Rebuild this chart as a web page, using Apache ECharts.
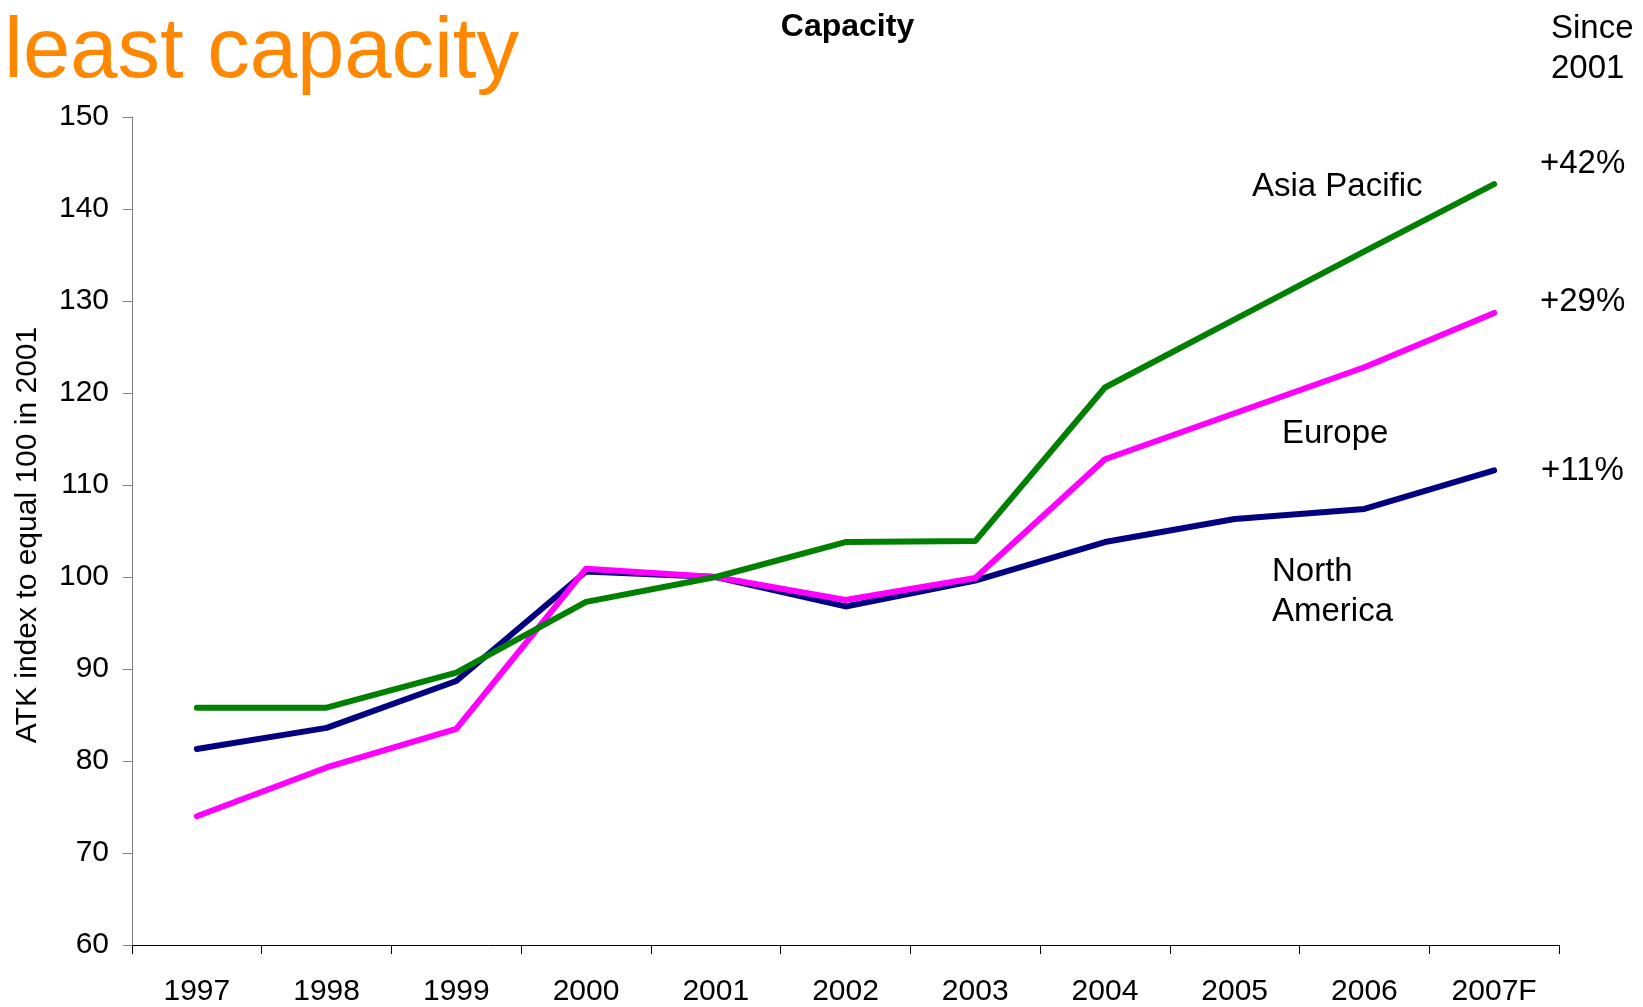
<!DOCTYPE html>
<html>
<head>
<meta charset="utf-8">
<script src="https://cdn.jsdelivr.net/npm/echarts@6/dist/echarts.min.js"></script>
<style>
html,body{margin:0;padding:0;background:#fff;}
#chart{width:1643px;height:1007px;}
</style>
</head>
<body>
<div id="chart"></div>
<script>
var years = ['1997','1998','1999','2000','2001','2002','2003','2004','2005','2006','2007F'];
var northAmerica = [81.3, 83.6, 88.7, 100.6, 100, 96.8, 99.6, 103.8, 106.3, 107.4, 111.6];
var europe = [74.0, 79.3, 83.5, 100.9, 100, 97.5, 99.9, 112.8, 117.8, 122.8, 128.7];
var asiaPacific = [85.8, 85.8, 89.6, 97.3, 100, 103.8, 103.9, 120.6, 128.0, 135.4, 142.7];
var yTicks = {min: 60, max: 150, interval: 10};

var FONT = "'Liberation Sans', Arial, sans-serif";
var chart = echarts.init(document.getElementById('chart'), null, {renderer: 'canvas'});

function txt(text, x, y, size, opts) {
  opts = opts || {};
  return {
    type: 'text', x: x, y: y, rotation: opts.rotation || 0, z: 10,
    style: {
      text: text, fill: opts.color || '#000',
      font: (opts.bold ? 'bold ' : '') + size + 'px ' + FONT,
      align: opts.align || 'left', verticalAlign: 'middle'
    }
  };
}

function mkSeries(name, data, color) {
  return {
    name: name, type: 'line', data: data, showSymbol: false, symbol: 'none',
    lineStyle: {color: color, width: 6, cap: 'round', join: 'round'},
    itemStyle: {color: color}
  };
}

chart.setOption({
  animation: false,
  backgroundColor: '#fff',
  grid: {left: 132, right: 84, top: 117, bottom: 58, containLabel: false},
  xAxis: {
    type: 'category', data: years, boundaryGap: true,
    axisLine: {show: true, lineStyle: {color: '#000', width: 1}},
    axisTick: {show: true, length: 9, inside: false, alignWithLabel: false, lineStyle: {color: '#000'}},
    axisLabel: {fontSize: 30, color: '#000', margin: 32, interval: 0, fontFamily: FONT},
    splitLine: {show: false}
  },
  yAxis: {
    type: 'value', min: yTicks.min, max: yTicks.max, interval: yTicks.interval,
    axisLine: {show: true, lineStyle: {color: '#7f7f7f', width: 1}},
    axisTick: {show: true, length: 9, inside: false, lineStyle: {color: '#7f7f7f'}},
    axisLabel: {fontSize: 30, color: '#000', margin: 23, fontFamily: FONT, padding: [7, 0, 0, 0]},
    splitLine: {show: false}
  },
  series: [
    mkSeries('North America', northAmerica, '#000080'),
    mkSeries('Europe', europe, '#FF00FF'),
    mkSeries('Asia Pacific', asiaPacific, '#008000')
  ],
  graphic: [
    txt('least capacity', 4, 53.5, 85, {color: '#FF8800'}),
    txt('Capacity', 847.5, 27, 32, {bold: true, align: 'center'}),
    txt('Since', 1551, 28.5, 33),
    txt('2001', 1551, 69, 33),
    txt('+42%', 1540, 164, 33),
    txt('+29%', 1540, 301.5, 33),
    txt('+11%', 1541, 471, 33),
    txt('Asia Pacific', 1252, 186.7, 33),
    txt('Europe', 1282, 433.5, 33),
    txt('North', 1272, 572.4, 33),
    txt('America', 1272, 611.7, 33),
    txt('ATK index to equal 100 in 2001', 28, 535, 30, {rotation: Math.PI / 2, align: 'center'})
  ]
});
</script>
</body>
</html>
